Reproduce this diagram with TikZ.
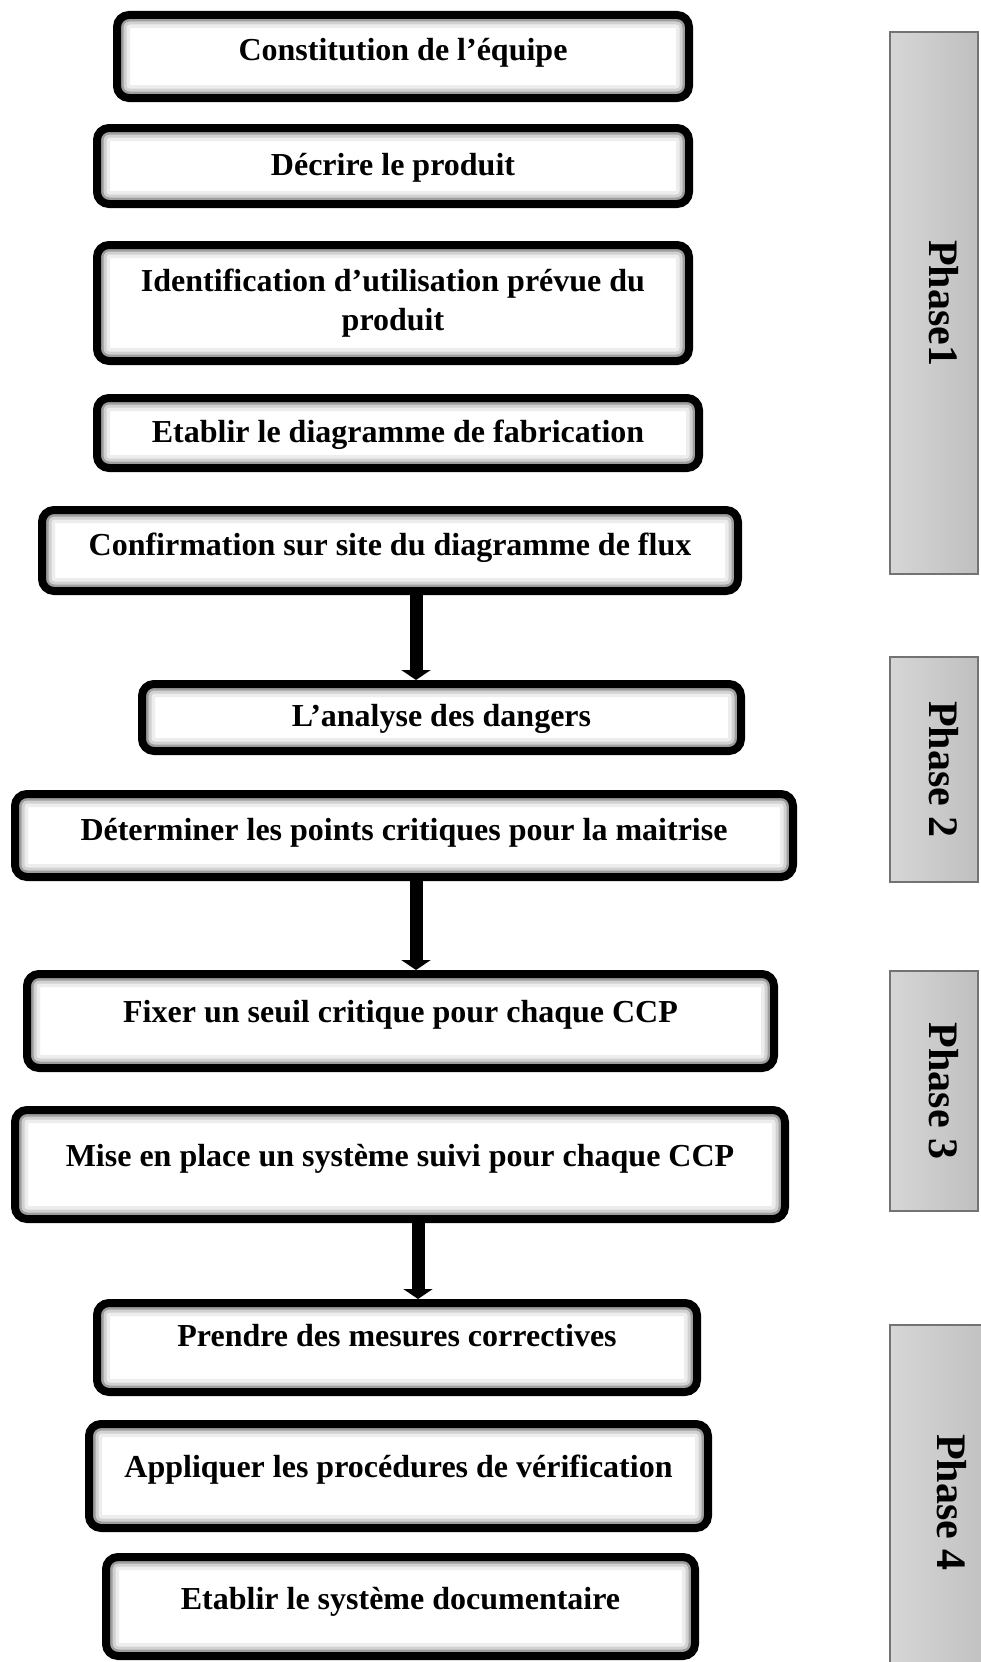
\documentclass[tikz,border=0pt]{standalone}
\usepackage{fontspec}
\setmainfont{Liberation Serif}
\usetikzlibrary{arrows.meta}

\tikzset{
	ombre/.style={path picture={
		\draw[black!7, line width=26pt, rounded corners=12pt] (path picture bounding box.south west) rectangle (path picture bounding box.north east);
		\draw[black!18, line width=19pt, rounded corners=12pt] (path picture bounding box.south west) rectangle (path picture bounding box.north east);
		\draw[black!38, line width=13pt, rounded corners=12pt] (path picture bounding box.south west) rectangle (path picture bounding box.north east);
	}},
	etape/.style={draw, line width=8pt, rounded corners=12pt, fill=white, ombre, inner sep=0pt, align=center, font=\bfseries\fontsize{32}{39}\selectfont},
	monte/.style={text height=24pt, text depth=#1},
	phase/.style={draw=black!55, line width=1.5pt, left color=black!16, right color=black!25, rotate=-90, inner sep=0pt, text height=30pt, text depth=20pt, font=\bfseries\fontsize{42}{42}\selectfont},
	fleche/.style={line width=13pt, -{Triangle[width=29pt, length=10pt]}}
}

\begin{document}
\begin{tikzpicture}[x=1pt, y=-1pt]
	\useasboundingbox (0,0) rectangle (981,1662);
	\node[phase, minimum width=542pt, minimum height=88pt] (p1) at (934,303) {Phase1};
	\node[phase, minimum width=225pt, minimum height=88pt] (p2) at (934,769.5) {Phase 2};
	\node[phase, minimum width=240pt, minimum height=88pt] (p3) at (934,1091) {Phase 3};
	\node[phase, minimum width=355pt, minimum height=105pt] (p4) at (942.5,1502.5) {Phase 4};
	\node[etape, monte=15pt, minimum width=572pt, minimum height=83pt] (b1) at (403,56.5) {Constitution de l’équipe};
	\node[etape, monte=6pt, minimum width=592pt, minimum height=76pt] (b2) at (393,166) {Décrire le produit};
	\node[etape, minimum width=592pt, minimum height=116pt] (b3) at (393,303) {Identification d’utilisation prévue du\\produit};
	\node[etape, monte=5pt, minimum width=602pt, minimum height=70pt] (b4) at (398,433) {Etablir le diagramme de fabrication};
	\node[etape, monte=15pt, minimum width=696pt, minimum height=81pt] (b5) at (390,550.5) {Confirmation sur site du diagramme de flux};
	\node[etape, monte=6pt, minimum width=599pt, minimum height=67pt] (b6) at (441.5,717.5) {L’analyse des dangers};
	\node[etape, monte=15pt, minimum width=778pt, minimum height=83pt] (b7) at (404,835.5) {Déterminer les points critiques pour la maitrise};
	\node[etape, monte=21pt, minimum width=747pt, minimum height=94pt] (b8) at (400.5,1021) {Fixer un seuil critique pour chaque CCP};
	\node[etape, monte=21pt, minimum width=770pt, minimum height=109pt] (b9) at (400,1164.5) {Mise en place un système suivi pour chaque CCP};
	\node[etape, monte=27pt, minimum width=600pt, minimum height=89pt] (b10) at (397,1347.5) {Prendre des mesures correctives};
	\node[etape, monte=21pt, minimum width=619pt, minimum height=104pt] (b11) at (398.5,1476) {Appliquer les procédures de vérification};
	\node[etape, monte=19pt, minimum width=589pt, minimum height=99pt] (b12) at (400.5,1606.5) {Etablir le système documentaire};
	\coordinate (f1) at (416,0);
	\coordinate (f3) at (418,0);
	\draw[fleche] (b5.south -| f1) -- (b6.north -| f1);
	\draw[fleche] (b7.south -| f1) -- (b8.north -| f1);
	\draw[fleche] (b9.south -| f3) -- (b10.north -| f3);
\end{tikzpicture}
\end{document}
